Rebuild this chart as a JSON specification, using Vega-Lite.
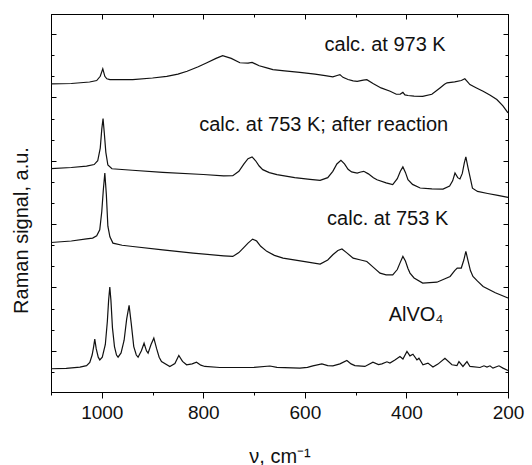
{
  "$schema": "https://vega.github.io/schema/vega-lite/v6.json",
  "width": 457,
  "height": 378,
  "autosize": "none",
  "padding": {"left": 51, "top": 14, "right": 24, "bottom": 73},
  "config": {
    "view": {"stroke": "#000", "strokeWidth": 1},
    "font": "Liberation Sans",
    "axis": {"domainColor": "#000", "tickColor": "#000", "tickWidth": 1, "grid": false, "labelColor": "#111", "titleColor": "#111", "labelFont": "Liberation Sans", "titleFont": "Liberation Sans", "titleFontWeight": "normal"}
  },
  "resolve": {"axis": {"x": "independent", "y": "independent"}},
  "layer": [
    {
      "data": {"values": [
        {"s":"973","x":1100,"y":12.64},{"s":"973","x":1060,"y":12.66},{"s":"973","x":1024,"y":12.73},{"s":"973","x":1010,"y":12.8},{"s":"973","x":1003,"y":13.0},{"s":"973","x":998,"y":13.35},{"s":"973","x":994,"y":13.0},{"s":"973","x":990,"y":12.88},{"s":"973","x":984,"y":12.84},{"s":"973","x":939,"y":12.84},{"s":"973","x":900,"y":12.92},{"s":"973","x":872,"y":13.0},{"s":"973","x":850,"y":13.1},{"s":"973","x":832,"y":13.24},{"s":"973","x":810,"y":13.45},{"s":"973","x":793,"y":13.64},{"s":"973","x":775,"y":13.85},{"s":"973","x":762,"y":13.98},{"s":"973","x":745,"y":13.85},{"s":"973","x":728,"y":13.64},{"s":"973","x":712,"y":13.62},{"s":"973","x":704,"y":13.66},{"s":"973","x":690,"y":13.5},{"s":"973","x":675,"y":13.4},{"s":"973","x":663,"y":13.32},{"s":"973","x":640,"y":13.26},{"s":"973","x":610,"y":13.19},{"s":"973","x":580,"y":13.1},{"s":"973","x":560,"y":13.03},{"s":"973","x":545,"y":12.97},{"s":"973","x":535,"y":13.05},{"s":"973","x":531,"y":13.08},{"s":"973","x":525,"y":12.95},{"s":"973","x":515,"y":12.85},{"s":"973","x":505,"y":12.78},{"s":"973","x":497,"y":12.76},{"s":"973","x":485,"y":12.82},{"s":"973","x":478,"y":12.84},{"s":"973","x":465,"y":12.65},{"s":"973","x":450,"y":12.45},{"s":"973","x":432,"y":12.29},{"s":"973","x":420,"y":12.15},{"s":"973","x":412,"y":12.16},{"s":"973","x":407,"y":12.24},{"s":"973","x":403,"y":12.12},{"s":"973","x":397,"y":12.09},{"s":"973","x":385,"y":12.06},{"s":"973","x":368,"y":12.05},{"s":"973","x":350,"y":12.15},{"s":"973","x":334,"y":12.45},{"s":"973","x":325,"y":12.62},{"s":"973","x":320,"y":12.69},{"s":"973","x":305,"y":12.74},{"s":"973","x":292,"y":12.8},{"s":"973","x":285,"y":12.88},{"s":"973","x":280,"y":12.75},{"s":"973","x":275,"y":12.61},{"s":"973","x":262,"y":12.45},{"s":"973","x":249,"y":12.29},{"s":"973","x":235,"y":12.1},{"s":"973","x":222,"y":11.9},{"s":"973","x":210,"y":11.6},{"s":"973","x":200,"y":11.27},
        {"s":"after","x":1100,"y":8.63},{"s":"after","x":1060,"y":8.68},{"s":"after","x":1030,"y":8.75},{"s":"after","x":1015,"y":8.82},{"s":"after","x":1008,"y":9.0},{"s":"after","x":1003,"y":9.6},{"s":"after","x":1000,"y":10.5},{"s":"after","x":997.5,"y":11.0},{"s":"after","x":995,"y":10.3},{"s":"after","x":992,"y":9.4},{"s":"after","x":988,"y":8.8},{"s":"after","x":980,"y":8.62},{"s":"after","x":940,"y":8.55},{"s":"after","x":880,"y":8.45},{"s":"after","x":800,"y":8.35},{"s":"after","x":760,"y":8.28},{"s":"after","x":742,"y":8.29},{"s":"after","x":730,"y":8.5},{"s":"after","x":720,"y":8.85},{"s":"after","x":712,"y":9.1},{"s":"after","x":704,"y":9.18},{"s":"after","x":697,"y":9.0},{"s":"after","x":690,"y":8.75},{"s":"after","x":683,"y":8.58},{"s":"after","x":670,"y":8.44},{"s":"after","x":655,"y":8.34},{"s":"after","x":620,"y":8.2},{"s":"after","x":590,"y":8.12},{"s":"after","x":570,"y":8.07},{"s":"after","x":555,"y":8.2},{"s":"after","x":545,"y":8.5},{"s":"after","x":537,"y":8.85},{"s":"after","x":529,"y":9.02},{"s":"after","x":522,"y":8.85},{"s":"after","x":515,"y":8.6},{"s":"after","x":508,"y":8.47},{"s":"after","x":497,"y":8.42},{"s":"after","x":490,"y":8.47},{"s":"after","x":484,"y":8.5},{"s":"after","x":475,"y":8.38},{"s":"after","x":465,"y":8.2},{"s":"after","x":458,"y":8.1},{"s":"after","x":440,"y":7.95},{"s":"after","x":427,"y":7.87},{"s":"after","x":418,"y":8.15},{"s":"after","x":412,"y":8.5},{"s":"after","x":407,"y":8.71},{"s":"after","x":402,"y":8.45},{"s":"after","x":397,"y":8.1},{"s":"after","x":388,"y":7.88},{"s":"after","x":373,"y":7.71},{"s":"after","x":350,"y":7.67},{"s":"after","x":328,"y":7.66},{"s":"after","x":315,"y":7.8},{"s":"after","x":309,"y":8.05},{"s":"after","x":304.4,"y":8.42},{"s":"after","x":299,"y":8.2},{"s":"after","x":294.6,"y":8.14},{"s":"after","x":290,"y":8.4},{"s":"after","x":286,"y":8.9},{"s":"after","x":283,"y":9.18},{"s":"after","x":279,"y":8.7},{"s":"after","x":275,"y":8.26},{"s":"after","x":270,"y":7.7},{"s":"after","x":260,"y":7.55},{"s":"after","x":240,"y":7.45},{"s":"after","x":220,"y":7.36},{"s":"after","x":200,"y":7.27},
        {"s":"753","x":1100,"y":5.13},{"s":"753","x":1060,"y":5.2},{"s":"753","x":1030,"y":5.3},{"s":"753","x":1018,"y":5.34},{"s":"753","x":1010,"y":5.45},{"s":"753","x":1004,"y":5.73},{"s":"753","x":1000,"y":6.6},{"s":"753","x":997,"y":7.6},{"s":"753","x":994,"y":8.42},{"s":"753","x":991,"y":7.4},{"s":"753","x":988,"y":5.9},{"s":"753","x":984,"y":5.4},{"s":"753","x":978,"y":5.1},{"s":"753","x":960,"y":5.0},{"s":"753","x":939,"y":4.94},{"s":"753","x":880,"y":4.78},{"s":"753","x":820,"y":4.63},{"s":"753","x":760,"y":4.5},{"s":"753","x":742,"y":4.47},{"s":"753","x":730,"y":4.65},{"s":"753","x":720,"y":4.9},{"s":"753","x":712,"y":5.1},{"s":"753","x":703,"y":5.29},{"s":"753","x":695,"y":5.2},{"s":"753","x":687,"y":4.95},{"s":"753","x":675,"y":4.71},{"s":"753","x":660,"y":4.52},{"s":"753","x":643,"y":4.39},{"s":"753","x":600,"y":4.22},{"s":"753","x":570,"y":4.11},{"s":"753","x":555,"y":4.3},{"s":"753","x":545,"y":4.55},{"s":"753","x":535,"y":4.75},{"s":"753","x":527,"y":4.82},{"s":"753","x":518,"y":4.65},{"s":"753","x":505,"y":4.39},{"s":"753","x":490,"y":4.3},{"s":"753","x":478,"y":4.23},{"s":"753","x":465,"y":3.95},{"s":"753","x":452,"y":3.68},{"s":"753","x":440,"y":3.6},{"s":"753","x":427,"y":3.6},{"s":"753","x":418,"y":3.85},{"s":"753","x":412,"y":4.2},{"s":"753","x":407,"y":4.47},{"s":"753","x":402,"y":4.25},{"s":"753","x":397,"y":3.9},{"s":"753","x":393,"y":3.68},{"s":"753","x":385,"y":3.45},{"s":"753","x":368,"y":3.21},{"s":"753","x":340,"y":3.25},{"s":"753","x":314,"y":3.52},{"s":"753","x":305,"y":3.8},{"s":"753","x":300,"y":3.92},{"s":"753","x":292,"y":3.92},{"s":"753","x":287,"y":4.3},{"s":"753","x":283,"y":4.71},{"s":"753","x":279,"y":4.3},{"s":"753","x":274,"y":3.8},{"s":"753","x":269,"y":3.52},{"s":"753","x":260,"y":3.3},{"s":"753","x":249,"y":3.05},{"s":"753","x":225,"y":2.75},{"s":"753","x":200,"y":2.5},
        {"s":"AlVO4","x":1100,"y":-0.85},{"s":"AlVO4","x":1070,"y":-0.83},{"s":"AlVO4","x":1043,"y":-0.77},{"s":"AlVO4","x":1030,"y":-0.7},{"s":"AlVO4","x":1023.6,"y":-0.55},{"s":"AlVO4","x":1019,"y":-0.2},{"s":"AlVO4","x":1016,"y":0.2},{"s":"AlVO4","x":1013.8,"y":0.55},{"s":"AlVO4","x":1011,"y":0.1},{"s":"AlVO4","x":1007,"y":-0.3},{"s":"AlVO4","x":1003.9,"y":-0.43},{"s":"AlVO4","x":999,"y":-0.3},{"s":"AlVO4","x":993,"y":0.3},{"s":"AlVO4","x":989,"y":1.4},{"s":"AlVO4","x":986.5,"y":2.4},{"s":"AlVO4","x":984.2,"y":3.02},{"s":"AlVO4","x":982,"y":2.4},{"s":"AlVO4","x":979,"y":1.1},{"s":"AlVO4","x":975,"y":0.2},{"s":"AlVO4","x":971,"y":-0.2},{"s":"AlVO4","x":967.9,"y":-0.3},{"s":"AlVO4","x":962,"y":-0.1},{"s":"AlVO4","x":956,"y":0.5},{"s":"AlVO4","x":951,"y":1.5},{"s":"AlVO4","x":946.2,"y":2.15},{"s":"AlVO4","x":942,"y":1.3},{"s":"AlVO4","x":937,"y":0.2},{"s":"AlVO4","x":932,"y":-0.2},{"s":"AlVO4","x":928.5,"y":-0.3},{"s":"AlVO4","x":922,"y":0.0},{"s":"AlVO4","x":916.7,"y":0.36},{"s":"AlVO4","x":912,"y":0.0},{"s":"AlVO4","x":908.8,"y":-0.11},{"s":"AlVO4","x":903,"y":0.3},{"s":"AlVO4","x":897.5,"y":0.6},{"s":"AlVO4","x":892,"y":0.1},{"s":"AlVO4","x":887,"y":-0.3},{"s":"AlVO4","x":882.4,"y":-0.51},{"s":"AlVO4","x":866,"y":-0.74},{"s":"AlVO4","x":856,"y":-0.6},{"s":"AlVO4","x":848.3,"y":-0.22},{"s":"AlVO4","x":841,"y":-0.5},{"s":"AlVO4","x":833,"y":-0.66},{"s":"AlVO4","x":822,"y":-0.62},{"s":"AlVO4","x":813.4,"y":-0.54},{"s":"AlVO4","x":805,"y":-0.68},{"s":"AlVO4","x":797,"y":-0.74},{"s":"AlVO4","x":767.5,"y":-0.79},{"s":"AlVO4","x":741.9,"y":-0.79},{"s":"AlVO4","x":700,"y":-0.78},{"s":"AlVO4","x":668.9,"y":-0.72},{"s":"AlVO4","x":655,"y":-0.78},{"s":"AlVO4","x":609.9,"y":-0.82},{"s":"AlVO4","x":595,"y":-0.78},{"s":"AlVO4","x":584.3,"y":-0.71},{"s":"AlVO4","x":566.5,"y":-0.62},{"s":"AlVO4","x":555,"y":-0.7},{"s":"AlVO4","x":544.8,"y":-0.71},{"s":"AlVO4","x":531,"y":-0.62},{"s":"AlVO4","x":517.3,"y":-0.46},{"s":"AlVO4","x":509,"y":-0.62},{"s":"AlVO4","x":501.5,"y":-0.7},{"s":"AlVO4","x":481.8,"y":-0.74},{"s":"AlVO4","x":466,"y":-0.54},{"s":"AlVO4","x":455,"y":-0.65},{"s":"AlVO4","x":448.3,"y":-0.62},{"s":"AlVO4","x":438.4,"y":-0.52},{"s":"AlVO4","x":432.5,"y":-0.58},{"s":"AlVO4","x":422.7,"y":-0.43},{"s":"AlVO4","x":412.8,"y":-0.27},{"s":"AlVO4","x":406.9,"y":-0.39},{"s":"AlVO4","x":399,"y":-0.03},{"s":"AlVO4","x":393.1,"y":-0.24},{"s":"AlVO4","x":387.2,"y":-0.16},{"s":"AlVO4","x":379.3,"y":-0.43},{"s":"AlVO4","x":375.4,"y":-0.35},{"s":"AlVO4","x":367.5,"y":-0.66},{"s":"AlVO4","x":357.7,"y":-0.58},{"s":"AlVO4","x":347.8,"y":-0.77},{"s":"AlVO4","x":338,"y":-0.63},{"s":"AlVO4","x":324.2,"y":-0.35},{"s":"AlVO4","x":310.4,"y":-0.66},{"s":"AlVO4","x":300.5,"y":-0.7},{"s":"AlVO4","x":296.6,"y":-0.51},{"s":"AlVO4","x":288.7,"y":-0.74},{"s":"AlVO4","x":280.8,"y":-0.51},{"s":"AlVO4","x":274.9,"y":-0.74},{"s":"AlVO4","x":255.2,"y":-0.79},{"s":"AlVO4","x":247.3,"y":-0.71},{"s":"AlVO4","x":241.4,"y":-0.77},{"s":"AlVO4","x":235.5,"y":-0.71},{"s":"AlVO4","x":229.6,"y":-0.82},{"s":"AlVO4","x":217.8,"y":-0.71},{"s":"AlVO4","x":209.9,"y":-0.82},{"s":"AlVO4","x":200,"y":-0.93}
      ]},
      "mark": {"type": "line", "color": "#111", "strokeWidth": 1.2},
      "encoding": {
        "x": {"field": "x", "type": "quantitative",
          "scale": {"domain": [200, 1100], "reverse": true, "nice": false, "zero": false},
          "axis": {"orient": "bottom", "values": [1100, 1000, 900, 800, 700, 600, 500, 400, 300, 200],
            "format": "d",
            "labelExpr": "datum.value % 200 === 0 ? datum.label : ''",
            "tickSize": {"condition": {"test": "datum.value % 200 === 0", "value": 6}, "value": 3},
            "labelFontSize": 19, "labelPadding": 5, "labelFlush": false,
            "title": "ν, cm⁻¹", "titleFontSize": 20, "titleY": 70, "titleBaseline": "alphabetic"}},
        "y": {"field": "y", "type": "quantitative",
          "scale": {"domain": [-1.95, 15.95], "nice": false, "zero": false},
          "axis": {"orient": "left", "values": [-1,0,1,2,3,4,5,6,7,8,9,10,11,12,13,14,15],
            "labels": false,
            "tickSize": {"condition": {"test": "datum.value % 3 === 0", "value": -5}, "value": -3},
            "title": "Raman signal, a.u.", "titleFontSize": 20, "titleX": -30, "titleY": 216, "titleBaseline": "middle", "titleAngle": -90}},
        "detail": {"field": "s"}
      }
    },
    {
      "data": {"values": [
        {"t": "calc. at 973 K", "x": 442, "y": 14.22},
        {"t": "calc. at 753 K; after reaction", "x": 563, "y": 10.39},
        {"t": "calc. at 753 K", "x": 437, "y": 5.97},
        {"t": "AlVO₄", "x": 381, "y": 1.39}
      ]},
      "mark": {"type": "text", "fontSize": 20, "align": "center", "baseline": "alphabetic", "color": "#111", "font": "Liberation Sans"},
      "encoding": {
        "x": {"field": "x", "type": "quantitative",
          "scale": {"domain": [200, 1100], "reverse": true, "nice": false, "zero": false},
          "axis": {"orient": "top", "values": [1100, 1000, 900, 800, 700, 600, 500, 400, 300, 200], "labels": false, "title": null,
            "tickSize": {"condition": {"test": "datum.value % 200 === 0", "value": -5}, "value": -3}}},
        "y": {"field": "y", "type": "quantitative",
          "scale": {"domain": [-1.95, 15.95], "nice": false, "zero": false},
          "axis": {"orient": "right", "values": [-1,0,1,2,3,4,5,6,7,8,9,10,11,12,13,14,15], "labels": false, "title": null,
            "tickSize": {"condition": {"test": "datum.value % 3 === 0", "value": -5}, "value": -3}}},
        "text": {"field": "t"}
      }
    }
  ]
}
